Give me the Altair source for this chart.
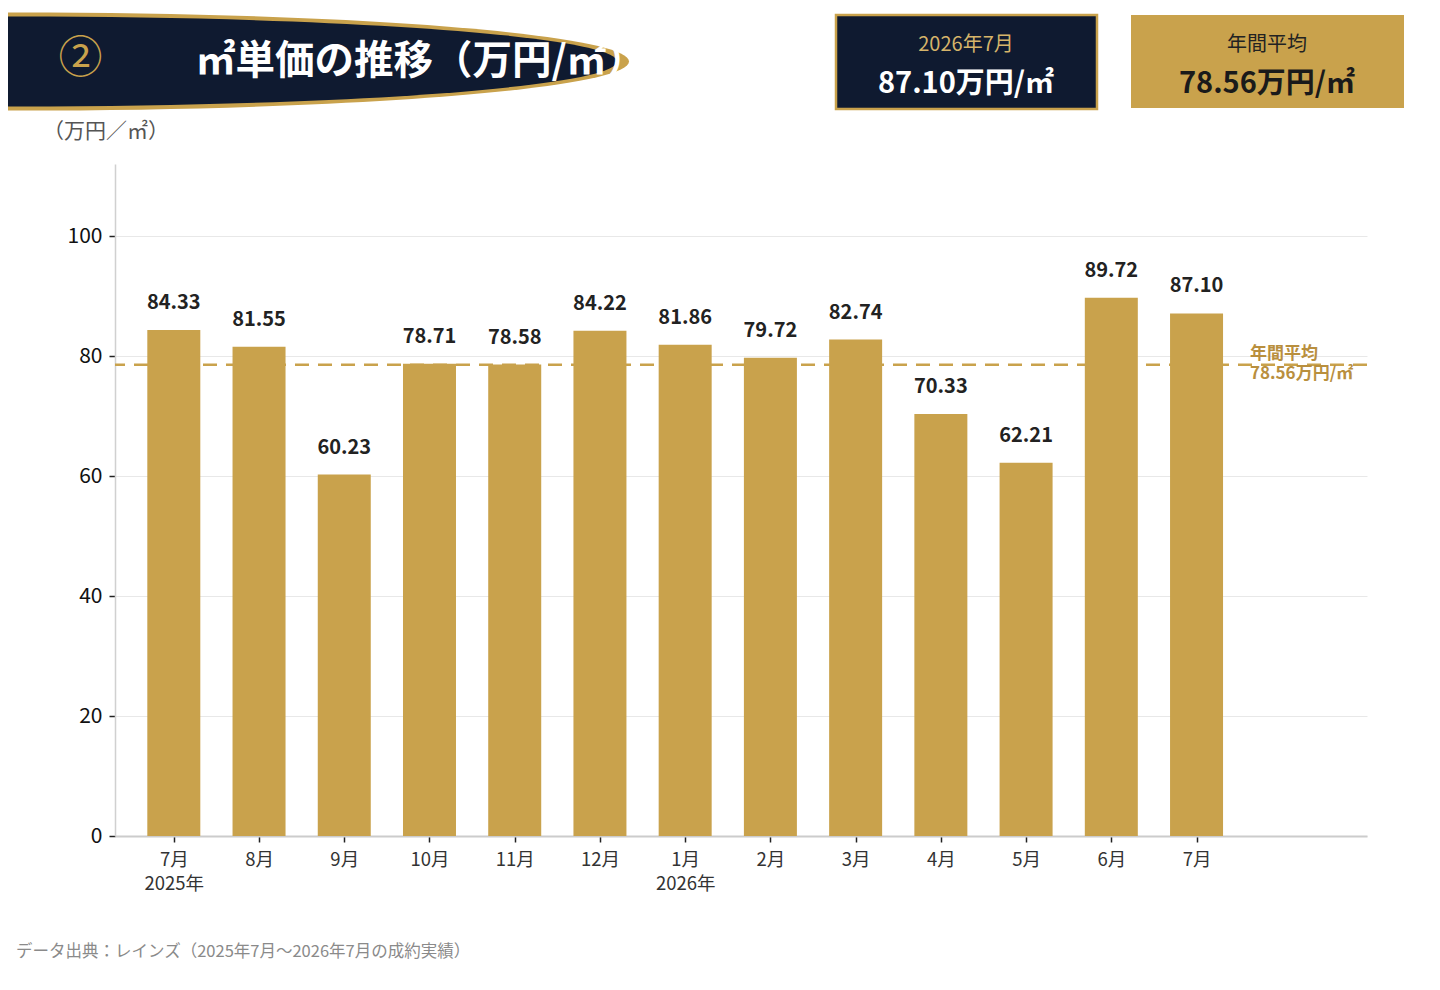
import json
import altair as alt
import pandas as pd

# ---------------- data ----------------
months = ["7月", "8月", "9月", "10月", "11月", "12月", "1月", "2月", "3月", "4月", "5月", "6月", "7月"]
years = ["2025年", "", "", "", "", "", "2026年", "", "", "", "", "", ""]
values = [84.33, 81.55, 60.23, 78.71, 78.58, 84.22, 81.86, 79.72, 82.74, 70.33, 62.21, 89.72, 87.10]
y_ticks = [0, 20, 40, 60, 80, 100]

badge_text = "②"
title_text = "㎡単価の推移（万円/㎡）"
latest_caption = "2026年7月"
avg_caption = "年間平均"
unit_text = "万円/㎡"
axis_unit_text = "（万円／㎡）"
source_text = "データ出典：レインズ（2025年7月〜2026年7月の成約実績）"

latest_value = values[-1]
avg_value = round(sum(values) / len(values), 2)

# ---------------- style ----------------
FONT = "Noto Sans CJK JP"
GOLD = "#C9A24C"
GOLD_TEXT = "#B98F3E"
NAVY = "#0F1A30"

df = pd.DataFrame({
    "i": list(range(len(values))),
    "v": values,
    "label": [f"{v:.2f}" for v in values],
})

label_arrays = [[m, y] if y else [m] for m, y in zip(months, years)]
label_expr = json.dumps(label_arrays, ensure_ascii=False) + "[datum.value]"

x_enc = alt.X(
    "i:Q",
    scale=alt.Scale(domain=[-0.69, 14.0], nice=False, zero=False, padding=0),
    axis=alt.Axis(
        values=list(range(len(values))),
        labelExpr=label_expr,
        title=None,
        grid=False,
        domainColor="#CCCCCC",
        domainWidth=2,
        tickColor="#222222",
        tickWidth=1.5,
        tickSize=6,
        labelFont=FONT,
        labelFontSize=18.5,
        labelColor="#333333",
        labelPadding=8,
        labelLineHeight=24,
        labelBaseline="top",
    ),
)

y_scale = alt.Scale(domain=[0, 112], nice=False, zero=True, padding=0)
y_enc = alt.Y(
    "v:Q",
    scale=y_scale,
    axis=alt.Axis(
        values=y_ticks,
        title=None,
        grid=True,
        gridColor="#E8E8E8",
        gridWidth=1,
        domainColor="#D0D0D0",
        domainWidth=1.5,
        tickColor="#222222",
        tickWidth=1.5,
        tickSize=6,
        labelFont=FONT,
        labelFontSize=21,
        labelColor="#111111",
        labelPadding=7,
    ),
)

avg_df = pd.DataFrame({"v": [avg_value], "t": [f"{avg_caption}\n{avg_value:.2f}{unit_text}"]})

avg_rule = alt.Chart(avg_df).mark_rule(
    color=GOLD, strokeDash=[14, 9], strokeWidth=2.5
).encode(y=y_enc)

bars = alt.Chart(df).mark_bar(color=GOLD, size=53).encode(x=x_enc, y=y_enc)

bar_labels = alt.Chart(df).mark_text(
    baseline="alphabetic", dy=-21, fontSize=20, fontWeight="bold", color="#222222", font=FONT
).encode(x=x_enc, y=y_enc, text="label:N")

avg_label = alt.Chart(avg_df).mark_text(
    align="left", baseline="middle", dy=-11, fontSize=17, fontWeight="bold",
    color=GOLD_TEXT, font=FONT, lineBreak="\n", lineHeight=20
).encode(x=alt.value(1135), y=y_enc, text="t:N")

# ---------------- header ----------------
def ellipse_path(r):
    k = 0.5523
    return (f"M-1,0 C-1,{-r*k:.4f} {-k},{-r:.4f} 0,{-r:.4f} "
            f"C{k},{-r:.4f} 1,{-r*k:.4f} 1,0 "
            f"C1,{r*k:.4f} {k},{r:.4f} 0,{r:.4f} "
            f"C{-k},{r:.4f} -1,{r*k:.4f} -1,0 Z")

one = pd.DataFrame({"k": [0]})

gold_ellipse = alt.Chart(one).mark_point(
    shape=ellipse_path(49 / 612), size=(2 * 612) ** 2, filled=True,
    color="#C9A24C", opacity=1, strokeWidth=0
).encode(x=alt.value(-98), y=alt.value(-102.5))

navy_ellipse = alt.Chart(one).mark_point(
    shape=ellipse_path(45 / 600), size=(2 * 600) ** 2, filled=True,
    color=NAVY, opacity=1, strokeWidth=0
).encode(x=alt.value(-98), y=alt.value(-102.5))

header_df = pd.DataFrame({"badge": [badge_text], "title": [title_text]})
badge = alt.Chart(header_df).mark_text(
    align="center", baseline="middle", fontSize=44, fontWeight="normal", color=GOLD, font=FONT
).encode(x=alt.value(-34.5), y=alt.value(-104), text="badge:N")

title = alt.Chart(header_df).mark_text(
    align="left", baseline="middle", fontSize=39.5, fontWeight="bold", color="#FFFFFF", font=FONT
).encode(x=alt.value(81), y=alt.value(-102), text="title:N")

# ---------------- summary boxes ----------------
box1 = alt.Chart(one).mark_rect(fill=NAVY, stroke=GOLD, strokeWidth=2.5).encode(
    x=alt.value(721), x2=alt.value(982), y=alt.value(-149), y2=alt.value(-55)
)
box2 = alt.Chart(one).mark_rect(fill=GOLD, strokeWidth=0).encode(
    x=alt.value(1016), x2=alt.value(1289), y=alt.value(-149), y2=alt.value(-56)
)

box_df = pd.DataFrame({
    "c1": [latest_caption], "v1": [f"{latest_value:.2f}{unit_text}"],
    "c2": [avg_caption], "v2": [f"{avg_value:.2f}{unit_text}"],
})
box1_cap = alt.Chart(box_df).mark_text(
    align="center", baseline="middle", fontSize=20, color="#D6B46A", font=FONT
).encode(x=alt.value(851), y=alt.value(-119), text="c1:N")
box1_val = alt.Chart(box_df).mark_text(
    align="center", baseline="middle", fontSize=29, fontWeight="bold", color="#FFFFFF", font=FONT
).encode(x=alt.value(851), y=alt.value(-80), text="v1:N")
box2_cap = alt.Chart(box_df).mark_text(
    align="center", baseline="middle", fontSize=20, color="#222222", font=FONT
).encode(x=alt.value(1152), y=alt.value(-119), text="c2:N")
box2_val = alt.Chart(box_df).mark_text(
    align="center", baseline="middle", fontSize=29, fontWeight="bold", color="#1A1A1A", font=FONT
).encode(x=alt.value(1152), y=alt.value(-80), text="v2:N")

# ---------------- other texts ----------------
misc_df = pd.DataFrame({"u": [axis_unit_text], "s": [source_text]})
unit_label = alt.Chart(misc_df).mark_text(
    align="left", baseline="middle", fontSize=21, color="#555555", font=FONT
).encode(x=alt.value(-72), y=alt.value(-32), text="u:N")
source_label = alt.Chart(misc_df).mark_text(
    align="left", baseline="middle", fontSize=16.5, color="#8A8A8A", font=FONT
).encode(x=alt.value(-99), y=alt.value(788), text="s:N")

chart = alt.layer(
    avg_rule, bars, bar_labels, avg_label,
    gold_ellipse, navy_ellipse, badge, title,
    box1, box2, box1_cap, box1_val, box2_cap, box2_val,
    unit_label, source_label,
).properties(
    width=1252,
    height=672,
    padding={"left": 107, "top": 156, "right": 50, "bottom": 130},
    autosize=alt.AutoSizeParams(type="none"),
    background="white",
).configure(font=FONT).configure_view(strokeWidth=0)

chart.save("out.html", embed_options={"renderer": "svg", "actions": False})
